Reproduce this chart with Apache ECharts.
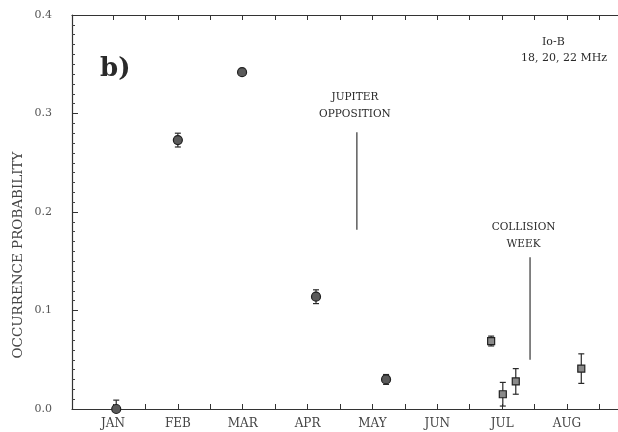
<!DOCTYPE html>
<html>
<head>
<meta charset="utf-8">
<script src="https://cdn.jsdelivr.net/npm/echarts@6/dist/echarts.min.js"></script>
<style>
  html, body { margin: 0; padding: 0; background: #fff; }
  #chart { width: 618px; height: 432px; }
</style>
</head>
<body>
<div id="chart"></div>
<script>
// x is month number, JAN = 1
const monthLabels = ['JAN', 'FEB', 'MAR', 'APR', 'MAY', 'JUN', 'JUL', 'AUG'];
const monthTicks = [1, 2, 3, 4, 5, 6, 7, 8];
const halfMonthTicks = [1, 1.5, 2, 2.5, 3, 3.5, 4, 4.5, 5, 5.5, 6, 6.5, 7, 7.5, 8, 8.5];

// circles
const circleX = [1.05, 2.0, 2.99, 4.13, 5.21];
const circleY = [0.0, 0.273, 0.342, 0.114, 0.030];
const circleErr = [0.009, 0.007, 0.003, 0.007, 0.005];

// squares
const squareX = [6.83, 7.01, 7.21, 8.22];
const squareY = [0.069, 0.015, 0.028, 0.041];
const squareErr = [0.005, 0.012, 0.013, 0.015];

// event markers
const eventNames = ['JUPITER\nOPPOSITION', 'COLLISION\nWEEK'];
const eventX = [4.76, 7.43];
const eventLabelX = [4.73, 7.33];
const eventTop = [0.281, 0.154];
const eventBottom = [0.182, 0.050];
const eventLabelY = [0.308, 0.176];

const serif = 'DejaVu Serif';
const ink = '#2a2a2a';

const chart = echarts.init(document.getElementById('chart'));

const circleData = circleX.map((x, i) => [x, circleY[i]]);
const squareData = squareX.map((x, i) => [x, squareY[i]]);
const errData = circleX.map((x, i) => [x, Math.max(0, circleY[i] - circleErr[i]), circleY[i] + circleErr[i]])
  .concat(squareX.map((x, i) => [x, Math.max(0, squareY[i] - squareErr[i]), squareY[i] + squareErr[i]]));
const eventData = eventX.map((x, i) => [x, eventBottom[i], eventTop[i], eventLabelX[i], eventLabelY[i]]);

function renderErr(params, api) {
  const x = api.value(0);
  const top = api.coord([x, api.value(2)]);
  const bot = api.coord([x, api.value(1)]);
  const w = 3;
  const st = { stroke: ink, lineWidth: 1.2 };
  return {
    type: 'group',
    children: [
      { type: 'line', shape: { x1: top[0], y1: top[1], x2: bot[0], y2: bot[1] }, style: st },
      { type: 'line', shape: { x1: top[0] - w, y1: top[1], x2: top[0] + w, y2: top[1] }, style: st },
      { type: 'line', shape: { x1: bot[0] - w, y1: bot[1], x2: bot[0] + w, y2: bot[1] }, style: st }
    ]
  };
}

function renderEvent(params, api) {
  const x = api.value(0);
  const bot = api.coord([x, api.value(1)]);
  const top = api.coord([x, api.value(2)]);
  const lab = api.coord([api.value(3), api.value(4)]);
  return {
    type: 'group',
    children: [
      { type: 'line', shape: { x1: top[0], y1: top[1], x2: bot[0], y2: bot[1] }, style: { stroke: '#444', lineWidth: 1.3 } },
      {
        type: 'text', x: lab[0], y: lab[1],
        style: {
          text: eventNames[params.dataIndex], fill: ink, font: '10.5px "' + serif + '"',
          align: 'center', verticalAlign: 'middle', lineHeight: 17
        }
      }
    ]
  };
}

const xRange = { min: 0.368, max: 8.786 };

chart.setOption({
  backgroundColor: '#fff',
  animation: false,
  title: [
    { text: 'b)', left: 95, top: 51, textStyle: { fontFamily: serif, fontWeight: 'bold', fontSize: 26, color: ink } },
    { text: 'Io-B', left: 537, top: 32, textStyle: { fontFamily: serif, fontWeight: 'normal', fontSize: 11, color: ink } },
    { text: '18, 20, 22 MHz', left: 516, top: 48, textStyle: { fontFamily: serif, fontWeight: 'normal', fontSize: 11, color: ink } }
  ],
  graphic: [
    {
      type: 'text', x: 18, y: 255, rotation: Math.PI / 2,
      style: {
        text: 'OCCURRENCE PROBABILITY', fill: '#444', font: '13.5px "' + serif + '"',
        align: 'center', verticalAlign: 'middle'
      }
    }
  ],
  grid: { left: 72, right: 0, top: 15, bottom: 23 },
  xAxis: [
    {
      type: 'value', ...xRange,
      axisLine: { lineStyle: { color: '#333', width: 1.2 } },
      axisTick: { inside: true, length: 5, customValues: halfMonthTicks, lineStyle: { color: '#333' } },
      axisLabel: {
        customValues: monthTicks, margin: 9,
        formatter: v => monthLabels[Math.round(v) - 1] || '',
        fontFamily: serif, fontSize: 12, color: '#444'
      },
      splitLine: { show: false }
    },
    {
      type: 'value', position: 'top', ...xRange,
      axisLine: { lineStyle: { color: '#333', width: 1.2 } },
      axisTick: { inside: true, length: 5, customValues: halfMonthTicks, lineStyle: { color: '#333' } },
      axisLabel: { show: false },
      splitLine: { show: false }
    }
  ],
  yAxis: {
    type: 'value', min: 0, max: 0.4, interval: 0.1,
    axisLine: { show: true, lineStyle: { color: '#333', width: 1.2 } },
    axisTick: { inside: true, length: 6, lineStyle: { color: '#333' } },
    minorTick: { show: true, splitNumber: 10, length: 3, lineStyle: { color: '#444' } },
    axisLabel: { formatter: v => v.toFixed(1), margin: 20, fontFamily: serif, fontSize: 11, color: '#555' },
    splitLine: { show: false }
  },
  series: [
    { type: 'custom', name: 'events', renderItem: renderEvent, data: eventData, silent: true, z: 1 },
    { type: 'custom', name: 'errors', renderItem: renderErr, data: errData, silent: true, z: 2 },
    {
      type: 'scatter', name: 'circles', data: circleData, symbol: 'circle', symbolSize: 9, z: 3,
      itemStyle: { color: '#5a5a5a', borderColor: '#1f1f1f', borderWidth: 1.2, opacity: 1 }
    },
    {
      type: 'scatter', name: 'squares', data: squareData, symbol: 'rect', symbolSize: 7, z: 3,
      itemStyle: { color: '#8a8a8a', borderColor: '#222', borderWidth: 1.2, opacity: 1 }
    }
  ]
});
</script>
</body>
</html>
